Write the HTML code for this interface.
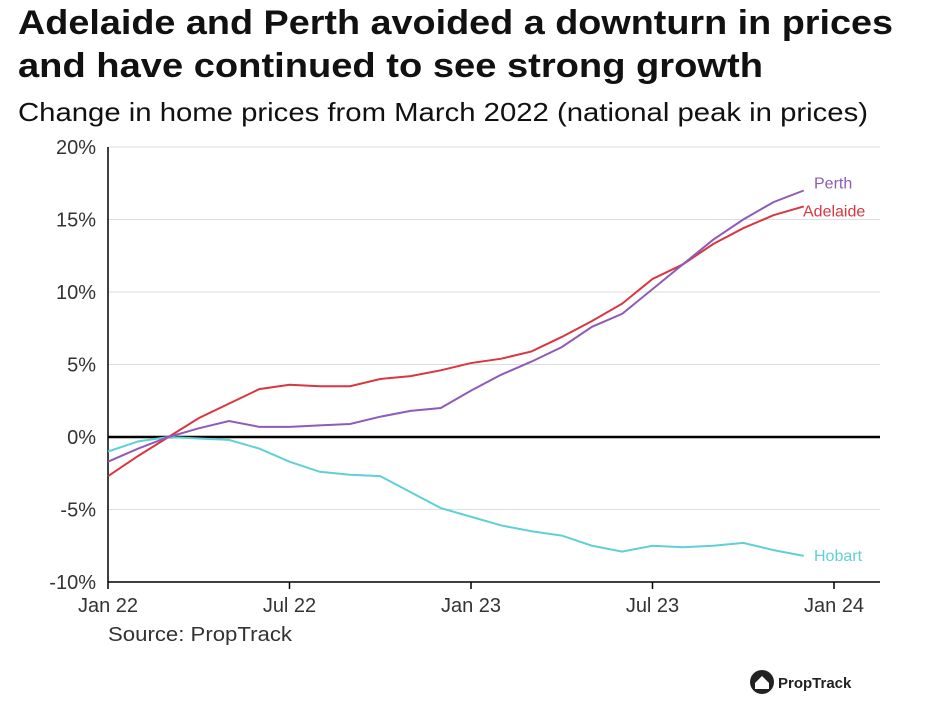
<!DOCTYPE html>
<html><head><meta charset="utf-8"><style>
body{margin:0;background:#fff;font-family:"Liberation Sans",sans-serif;}
svg text{font-family:"Liberation Sans",sans-serif;}
</style></head><body>
<svg width="933" height="720" xmlns="http://www.w3.org/2000/svg">
<text x="18" y="34" font-size="34" font-weight="bold" fill="#111" textLength="875" lengthAdjust="spacingAndGlyphs">Adelaide and Perth avoided a downturn in prices</text>
<text x="18" y="77" font-size="34" font-weight="bold" fill="#111" textLength="745" lengthAdjust="spacingAndGlyphs">and have continued to see strong growth</text>
<text x="18" y="121" font-size="26" fill="#111" textLength="850" lengthAdjust="spacingAndGlyphs">Change in home prices from March 2022 (national peak in prices)</text>
<g id="grid"></g><g id="series"></g>
<text x="108" y="641" font-size="20" fill="#333" textLength="184" lengthAdjust="spacingAndGlyphs">Source: PropTrack</text>
<g>
<circle cx="762" cy="682" r="12" fill="#222"/>
<path d="M755 683 L762 676 L769 683 L769 689 L755 689 Z" fill="#fff"/>
<text x="778" y="688" font-size="15" font-weight="bold" fill="#222">PropTrack</text>
</g>
</svg>
<script>
const months = 24;
const perth = [-1.7,-0.8,0,0.6,1.1,0.7,0.7,0.8,0.9,1.4,1.8,2.0,3.2,4.3,5.2,6.2,7.6,8.5,10.2,11.9,13.6,15.0,16.2,17.0];
const adelaide = [-2.7,-1.3,0,1.3,2.3,3.3,3.6,3.5,3.5,4.0,4.2,4.6,5.1,5.4,5.9,6.9,8.0,9.2,10.9,11.9,13.3,14.4,15.3,15.9];
const hobart = [-1.0,-0.3,0,-0.1,-0.2,-0.8,-1.7,-2.4,-2.6,-2.7,-3.8,-4.9,-5.5,-6.1,-6.5,-6.8,-7.5,-7.9,-7.5,-7.6,-7.5,-7.3,-7.8,-8.2];
const yTicks = [20,15,10,5,0,-5,-10];
const xTickLabels = ["Jan 22","Jul 22","Jan 23","Jul 23","Jan 24"];
const xTickMonths = [0,6,12,18,24];
const NS="http://www.w3.org/2000/svg";
const x = m => 108 + m*(834-108)/24;
const y = v => 437 - v*14.5;
function mk(tag, attrs, parent){const e=document.createElementNS(NS,tag);for(const k in attrs)e.setAttribute(k,attrs[k]);parent.appendChild(e);return e;}
const grid=document.getElementById('grid'), ser=document.getElementById('series');
yTicks.forEach(t=>{
  const l=mk('line',{x1:108,x2:880,y1:y(t),y2:y(t),stroke:t===0?'#000':'#ddd','stroke-width':t===0?2.5:1},grid);
  
  
  const tx=mk('text',{x:96,y:y(t)+7,'font-size':20,fill:'#333','text-anchor':'end'},grid);
  tx.textContent=t+'%';
  
  
});
const ax=mk('line',{x1:108,x2:108,y1:y(20),y2:y(-10),stroke:'#000','stroke-width':1.5},grid);


const bx=mk('line',{x1:108,x2:880,y1:y(-10),y2:y(-10),stroke:'#000','stroke-width':1.5},grid);


xTickMonths.forEach((m,i)=>{
  const tk=mk('line',{x1:x(m),x2:x(m),y1:y(-10),y2:y(-10)+7,stroke:'#000','stroke-width':1.5},grid);
  
  
  const tx=mk('text',{x:x(m),y:y(-10)+30,'font-size':20,fill:'#333','text-anchor':'middle'},grid);
  tx.textContent=xTickLabels[i];
  
  
});
[[hobart,'#5fd0d6','Hobart'],[adelaide,'#d9363e','Adelaide'],[perth,'#8e5bb8','Perth']].forEach(([d,c,n])=>{
  const p=mk('polyline',{points:d.map((v,i)=>x(i)+','+y(v)).join(' '),fill:'none',stroke:c,'stroke-width':2},ser);
  
  
  const last=d[d.length-1];
  const tx=mk('text',{x:n==='Adelaide'?803:814,y:y(last)+(n==='Perth'?-2:n==='Adelaide'?10:5),'font-size':16,fill:c},ser);
  tx.textContent=n;
  
  
});
</script>
</body></html>
